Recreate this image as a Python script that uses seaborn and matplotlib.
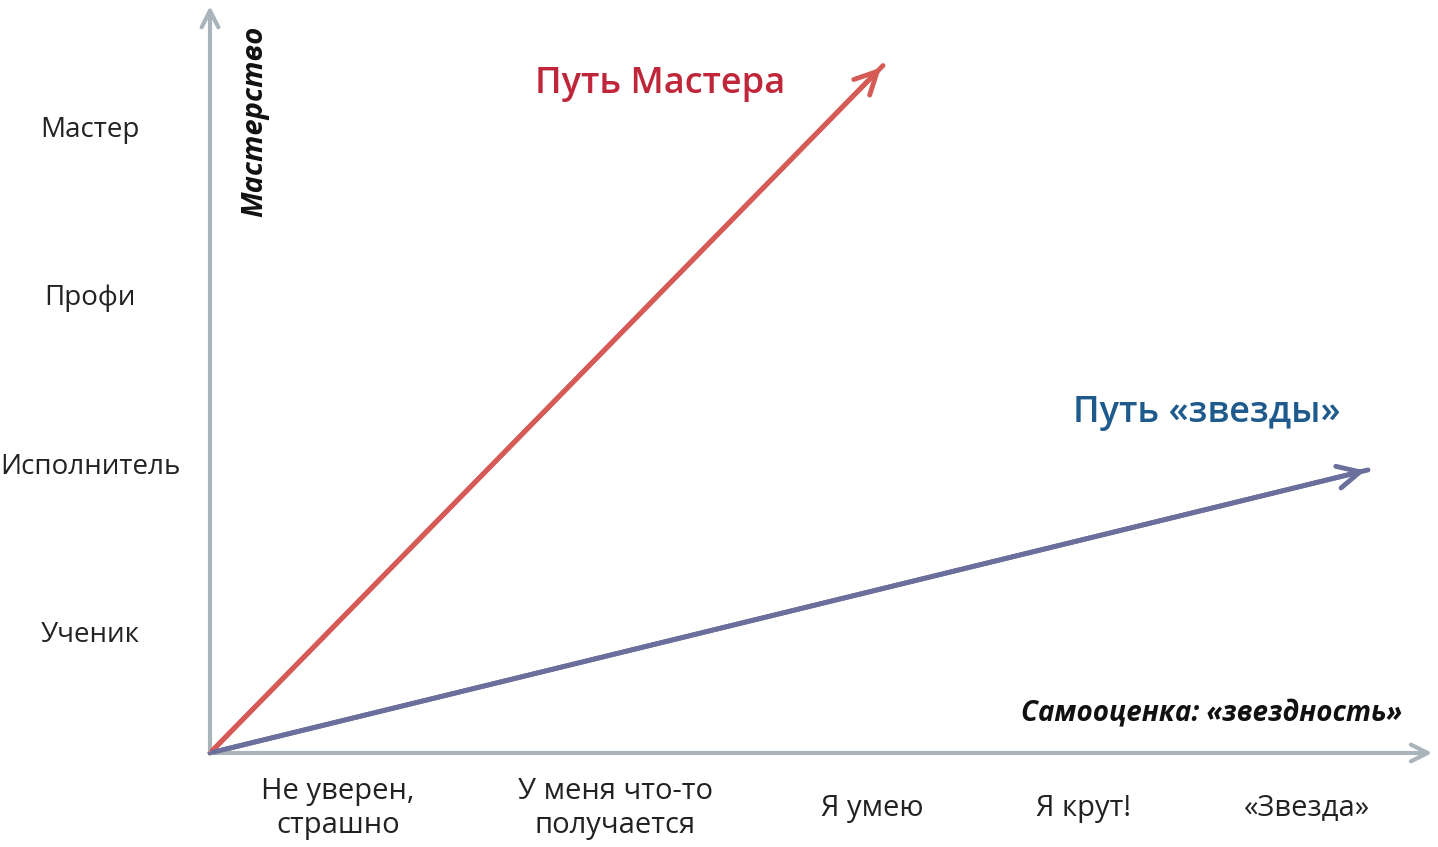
import matplotlib
matplotlib.use("Agg")
import matplotlib.pyplot as plt
import seaborn as sns
import pandas as pd

# ── data ──────────────────────────────────────────────────────────────
x_labels = ["Не уверен,\nстрашно", "У меня что-то\nполучается", "Я умею", "Я крут!", "«Звезда»"]
x_pos = [3.38, 6.15, 8.72, 10.83, 13.07]
y_labels = ["Ученик", "Исполнитель", "Профи", "Мастер"]
y_pos = [1, 2, 3, 4]
origin = (2.1, 0.3)
master_path = [origin, (8.83, 4.38)]
star_path = [origin, (13.68, 1.98)]

sns.set_style("white")
plt.rcParams["font.family"] = ["Open Sans", "DejaVu Sans"]

fig = plt.figure(figsize=(14.38, 8.47), dpi=100)
ax = fig.add_axes([0, 0, 1, 1])
ax.set_xlim(0, 14.38)
ax.set_ylim(-0.258, 4.769)
ax.axis("off")

grey = "#a9b4bb"
arrow = dict(arrowstyle="->", color=grey, lw=3, mutation_scale=30)
ax.annotate("", xy=(14.35, origin[1]), xytext=origin, arrowprops=arrow)
ax.annotate("", xy=(origin[0], 4.75), xytext=origin, arrowprops=arrow)

for path, color in [(master_path, "#d65a56"), (star_path, "#6a6f9b")]:
    df = pd.DataFrame(path, columns=["x", "y"])
    sns.lineplot(data=df, x="x", y="y", ax=ax, color=color, lw=3.5)
    ax.annotate("", xy=path[1], xytext=path[0],
                arrowprops=dict(arrowstyle="->", color=color, lw=3.5, mutation_scale=40))

for x, lab in zip(x_pos, x_labels):
    ax.text(x, -0.03, lab, ha="center", va="center", fontsize=21, color="#222")
for y, lab in zip(y_pos, y_labels):
    ax.text(0.9, y, lab, ha="center", va="center", fontsize=20, color="#222")

ax.text(6.6, 4.27, "Путь Мастера", color="#c0263a", fontsize=26, fontweight="semibold",
        ha="center", va="center")
ax.text(12.07, 2.32, "Путь «звезды»", color="#1f5a8c", fontsize=26, fontweight="semibold",
        ha="center", va="center")
ax.text(2.55, 4.05, "Мастерство", rotation=90, fontsize=21, fontweight="bold",
        style="italic", ha="center", va="center", color="#111")
ax.text(14.02, 0.53, "Самооценка: «звездность»", fontsize=20, fontweight="bold",
        style="italic", ha="right", va="center", color="#111")

fig.savefig("out.png", dpi=100)
